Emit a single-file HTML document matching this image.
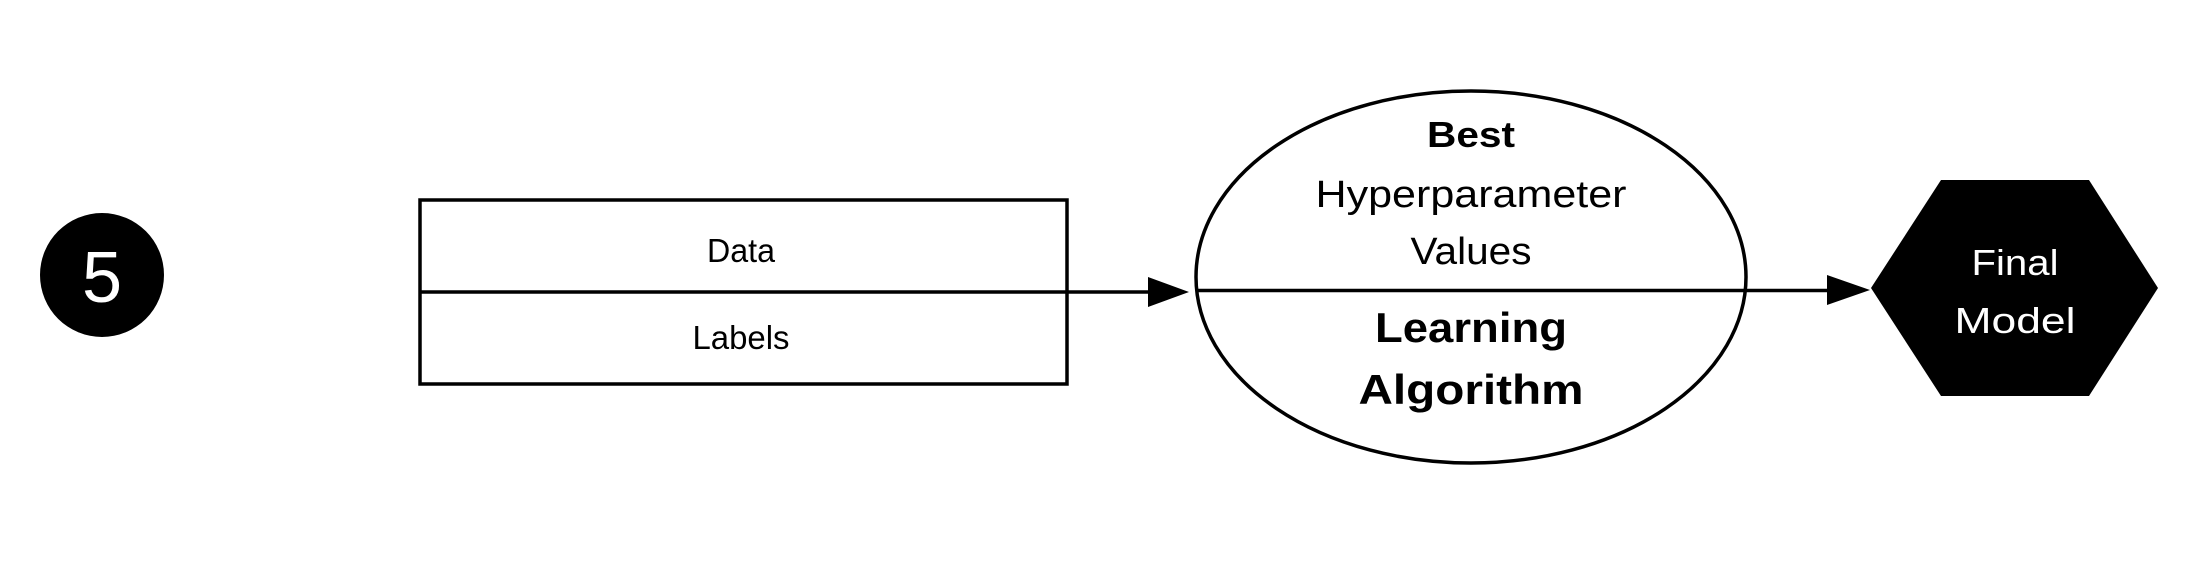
<!DOCTYPE html>
<html><head><meta charset="utf-8"><style>html,body{margin:0;padding:0;background:#fff}svg{display:block}</style></head>
<body>
<svg width="2201" height="561" viewBox="0 0 2201 561" xmlns="http://www.w3.org/2000/svg" font-family="Liberation Sans, sans-serif">
<rect width="2201" height="561" fill="#fff"/>
<ellipse cx="102" cy="275" rx="62" ry="62" fill="#000"/>
<text x="102" y="302" font-size="72" fill="#fff" text-anchor="middle">5</text>
<rect x="420" y="200" width="647" height="184" fill="none" stroke="#000" stroke-width="3.5"/>
<line x1="420" y1="292" x2="1150" y2="292" stroke="#000" stroke-width="3.5"/>
<text x="741" y="262" font-size="33" text-anchor="middle" textLength="68" lengthAdjust="spacingAndGlyphs">Data</text>
<text x="741" y="349" font-size="33" text-anchor="middle" textLength="97" lengthAdjust="spacingAndGlyphs">Labels</text>
<polygon points="1148,277 1189,292 1148,307" fill="#000"/>
<ellipse cx="1471" cy="277" rx="275" ry="186" fill="none" stroke="#000" stroke-width="3.5"/>
<line x1="1196" y1="290.5" x2="1830" y2="290.5" stroke="#000" stroke-width="3.5"/>
<polygon points="1827,275 1870,290 1827,305" fill="#000"/>
<text x="1471" y="147" font-size="36" font-weight="bold" text-anchor="middle" textLength="88" lengthAdjust="spacingAndGlyphs">Best</text>
<text x="1471" y="207" font-size="38" text-anchor="middle" textLength="311" lengthAdjust="spacingAndGlyphs">Hyperparameter</text>
<text x="1471" y="264" font-size="38" text-anchor="middle" textLength="121" lengthAdjust="spacingAndGlyphs">Values</text>
<text x="1471" y="342" font-size="42" font-weight="bold" text-anchor="middle" textLength="192" lengthAdjust="spacingAndGlyphs">Learning</text>
<text x="1471" y="404" font-size="42" font-weight="bold" text-anchor="middle" textLength="225" lengthAdjust="spacingAndGlyphs">Algorithm</text>
<polygon points="1941,180 2089,180 2158,288 2089,396 1941,396 1871,288" fill="#000"/>
<text x="2015" y="275" font-size="36" fill="#fff" text-anchor="middle" textLength="87" lengthAdjust="spacingAndGlyphs">Final</text>
<text x="2015" y="333" font-size="36" fill="#fff" text-anchor="middle" textLength="121" lengthAdjust="spacingAndGlyphs">Model</text>
</svg>
</body></html>
